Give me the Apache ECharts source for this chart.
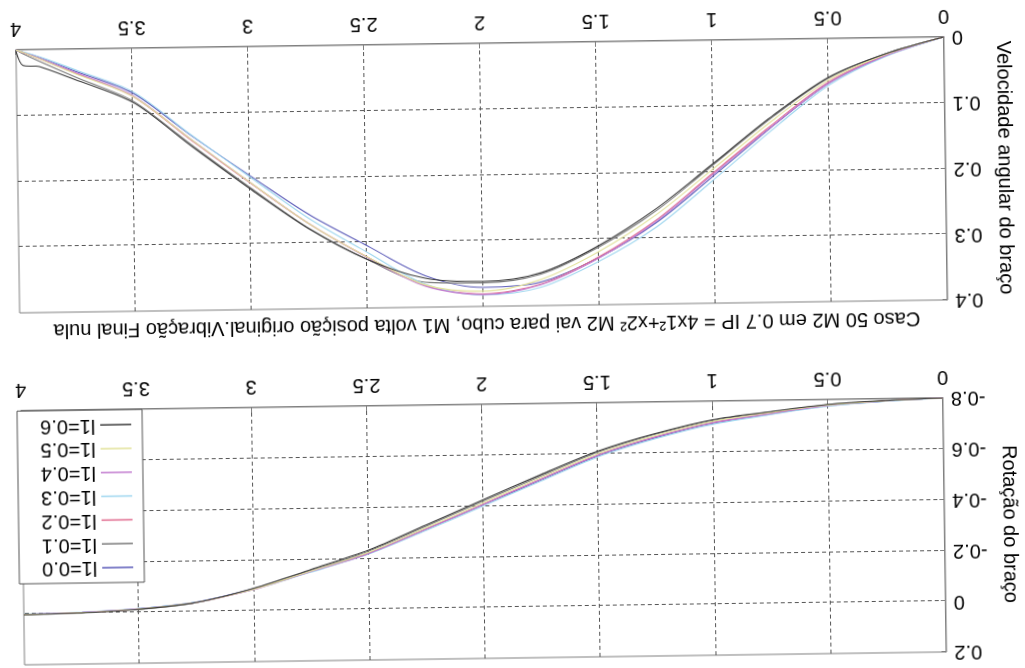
<!DOCTYPE html>
<html>
<head>
<meta charset="utf-8">
<title>Caso 50</title>
<script src="https://cdn.jsdelivr.net/npm/echarts@6.0.0/dist/echarts.min.js"></script>
<style>
html, body { margin: 0; padding: 0; background: #fff; overflow: hidden; }
/* the scanned figure is upside down and slightly tilted */
#main { width: 1025px; height: 668px; transform: rotate(179.2deg); transform-origin: 50% 50%; }
</style>
</head>
<body>
<div id="main"></div>
<script>
// tempo (s)
var tempo = [0, 0.25, 0.5, 0.75, 1, 1.25, 1.5, 1.75, 2, 2.25, 2.5, 2.75, 3, 3.25, 3.5, 3.75, 3.9, 3.97, 4];

var nomes = ['l1=0.0', 'l1=0.1', 'l1=0.2', 'l1=0.3', 'l1=0.4', 'l1=0.5', 'l1=0.6'];
var cores = ['#5a5ab8', '#7a7a7a', '#e06a8e', '#9ed6ef', '#c27ccf', '#e2e29a', '#3c3c3c'];

// Rotação do braço
var rot00 = [-0.8, -0.791, -0.776, -0.747, -0.713, -0.659, -0.591, -0.499, -0.405, -0.312, -0.222, -0.155, -0.088, -0.038, -0.015, -0.003, 0.000, 0.001, 0.001];
var rot01 = [-0.8, -0.793, -0.780, -0.754, -0.724, -0.673, -0.606, -0.515, -0.420, -0.324, -0.229, -0.157, -0.087, -0.036, -0.013, -0.002, 0.001, 0.002, 0.002];
var rot02 = [-0.8, -0.792, -0.777, -0.749, -0.716, -0.663, -0.595, -0.503, -0.407, -0.313, -0.220, -0.152, -0.085, -0.036, -0.014, -0.003, 0.000, 0.001, 0.001];
var rot03 = [-0.8, -0.790, -0.774, -0.744, -0.709, -0.655, -0.587, -0.495, -0.400, -0.307, -0.217, -0.150, -0.085, -0.037, -0.015, -0.004, -0.001, 0.000, 0.000];
var rot04 = [-0.8, -0.792, -0.777, -0.748, -0.715, -0.662, -0.594, -0.502, -0.406, -0.312, -0.219, -0.152, -0.085, -0.036, -0.014, -0.003, 0.000, 0.001, 0.001];
var rot05 = [-0.8, -0.792, -0.779, -0.752, -0.720, -0.668, -0.600, -0.509, -0.413, -0.318, -0.224, -0.154, -0.086, -0.036, -0.013, -0.002, 0.001, 0.002, 0.002];
var rot06 = [-0.8, -0.793, -0.781, -0.756, -0.727, -0.676, -0.610, -0.520, -0.425, -0.329, -0.233, -0.160, -0.089, -0.036, -0.012, -0.001, 0.002, 0.003, 0.003];

// Velocidade angular do braço
var vel00 = [0, 0.027, 0.068, 0.134, 0.206, 0.276, 0.328, 0.364, 0.371, 0.352, 0.305, 0.256, 0.196, 0.134, 0.068, 0.033, 0.012, 0.004, 0];
var vel01 = [0, 0.024, 0.060, 0.120, 0.189, 0.258, 0.312, 0.352, 0.364, 0.362, 0.326, 0.277, 0.214, 0.148, 0.080, 0.042, 0.018, 0.006, 0];
var vel02 = [0, 0.026, 0.066, 0.131, 0.201, 0.272, 0.327, 0.367, 0.381, 0.367, 0.322, 0.270, 0.207, 0.141, 0.073, 0.036, 0.014, 0.004, 0];
var vel03 = [0, 0.028, 0.071, 0.139, 0.212, 0.283, 0.334, 0.372, 0.383, 0.365, 0.315, 0.262, 0.198, 0.133, 0.066, 0.031, 0.011, 0.003, 0];
var vel04 = [0, 0.027, 0.068, 0.133, 0.203, 0.274, 0.329, 0.368, 0.382, 0.368, 0.323, 0.270, 0.206, 0.140, 0.072, 0.035, 0.013, 0.004, 0];
var vel05 = [0, 0.025, 0.063, 0.125, 0.195, 0.264, 0.319, 0.360, 0.377, 0.366, 0.322, 0.270, 0.206, 0.140, 0.073, 0.037, 0.014, 0.004, 0];
var vel06 = [0, 0.024, 0.059, 0.118, 0.187, 0.255, 0.310, 0.350, 0.362, 0.356, 0.326, 0.278, 0.216, 0.150, 0.082, 0.046, 0.026, 0.024, 0.002];

var rotacao = [rot00, rot01, rot02, rot03, rot04, rot05, rot06];
var velocidade = [vel00, vel01, vel02, vel03, vel04, vel05, vel06];

var xTicks = [0, 4, 0.5];          // min, max, interval
var rotTicks = [-0.8, 0.2, 0.2];
var velTicks = [0, 0.4, 0.1];

var fonte = "'Liberation Sans', Arial, sans-serif";

function pares(ys) {
    return tempo.map(function (t, i) { return [t, ys[i]]; });
}

function eixoX(grid) {
    return {
        type: 'value',
        gridIndex: grid,
        min: xTicks[0],
        max: xTicks[1],
        interval: xTicks[2],
        axisLine: { show: true, onZero: false, lineStyle: { color: '#808080' } },
        axisTick: { show: true, inside: true, length: 5, lineStyle: { color: '#808080' } },
        axisLabel: { color: '#000', fontSize: 20, fontFamily: fonte, margin: 11 },
        splitLine: {
            show: true, showMinLine: false, showMaxLine: false,
            lineStyle: { color: '#555', type: [4, 3], width: 1 }
        }
    };
}

function eixoY(grid, ticks, nome, gap) {
    return {
        type: 'value',
        gridIndex: grid,
        min: ticks[0],
        max: ticks[1],
        interval: ticks[2],
        name: nome,
        nameLocation: 'middle',
        nameRotate: 90,
        nameGap: gap,
        nameTextStyle: { color: '#000', fontSize: 20, fontFamily: fonte },
        axisLine: { show: true, onZero: false, lineStyle: { color: '#808080' } },
        axisTick: { show: true, inside: true, length: 5, lineStyle: { color: '#808080' } },
        axisLabel: { color: '#000', fontSize: 20, fontFamily: fonte, margin: 8 },
        splitLine: {
            show: true, showMinLine: false, showMaxLine: false,
            lineStyle: { color: '#555', type: [4, 3], width: 1 }
        }
    };
}

var series = [];
nomes.forEach(function (n, k) {
    series.push({
        name: n, type: 'line', xAxisIndex: 0, yAxisIndex: 0,
        data: pares(rotacao[k]), symbol: 'none', smooth: 0.3,
        lineStyle: { color: cores[k], width: 1.1 }, itemStyle: { color: cores[k] }
    });
});
nomes.forEach(function (n, k) {
    series.push({
        name: n, type: 'line', xAxisIndex: 1, yAxisIndex: 1,
        data: pares(velocidade[k]), symbol: 'none', smooth: 0.3,
        lineStyle: { color: cores[k], width: 1.1 }, itemStyle: { color: cores[k] }
    });
});

var option = {
    animation: false,
    backgroundColor: '#fff',
    textStyle: { fontFamily: fonte },
    grid: [
        { left: 71, right: 20, top: 6, height: 258, show: true, borderColor: '#808080', borderWidth: 1, backgroundColor: '#fff' },
        { left: 71, right: 20, top: 362, height: 263, show: true, borderColor: '#808080', borderWidth: 1, backgroundColor: '#fff' }
    ],
    xAxis: [eixoX(0), eixoX(1)],
    yAxis: [
        eixoY(0, rotTicks, 'Rotação do braço', 55),
        eixoY(1, velTicks, 'Velocidade angular do braço', 49)
    ],
    legend: {
        data: nomes,
        orient: 'vertical',
        right: 16,
        top: 91,
        icon: 'rect',
        itemWidth: 31,
        itemHeight: 1.5,
        itemGap: 3.8,
        padding: [5, 22, 5, 11],
        backgroundColor: '#fff',
        borderColor: '#555',
        borderWidth: 1,
        textStyle: { color: '#000', fontSize: 20, fontFamily: fonte, lineHeight: 20, width: 56 }
    },
    graphic: [{
        type: 'text',
        x: 538,
        y: 344,
        style: {
            text: 'Caso 50 M2 em 0.7 IP = 4x1²+x2² M2 vai para cubo, M1 volta posição original.Vibração Final nula',
            font: "20px 'Liberation Sans', Arial, sans-serif",
            fill: '#000',
            textAlign: 'center',
            textVerticalAlign: 'middle'
        }
    }],
    series: series
};

var myChart = echarts.init(document.getElementById('main'));
myChart.setOption(option);
window.addEventListener('resize', function () { myChart.resize(); });
</script>
</body>
</html>
